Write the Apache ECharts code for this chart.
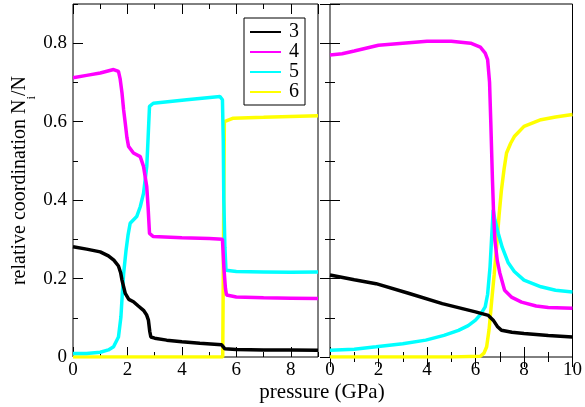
<!DOCTYPE html>
<html>
<head>
<meta charset="utf-8">
<script src="https://cdn.jsdelivr.net/npm/echarts@6/dist/echarts.min.js"></script>
<style>
  html, body { margin: 0; padding: 0; background: #fff; }
  #chart { width: 585px; height: 407px; }
</style>
</head>
<body>
<div id="chart"></div>
<script>
// Fraction of atoms with coordination 3, 4, 5, 6 versus pressure (two runs)
var seriesNames = ['3', '4', '5', '6'];
var seriesColors = ['#000000', '#ff00ff', '#00ffff', '#ffff00'];

// left run, pressure 0-9 GPa
var left3 = [[0,0.281],[0.5,0.275],[1.0,0.268],[1.3,0.258],[1.5,0.247],[1.67,0.232],[1.75,0.215],[1.8,0.196],[1.92,0.162],[2.05,0.147],[2.22,0.141],[2.4,0.13],[2.59,0.119],[2.7,0.108],[2.77,0.094],[2.82,0.065],[2.86,0.051],[3.0,0.048],[3.44,0.043],[4.0,0.039],[4.66,0.035],[5.46,0.031],[5.52,0.03],[5.58,0.021],[6.0,0.019],[7.0,0.018],[8.0,0.018],[9.0,0.017]];
var left4 = [[0,0.712],[0.5,0.718],[1.0,0.724],[1.49,0.733],[1.67,0.728],[1.73,0.71],[1.8,0.673],[1.86,0.63],[1.92,0.596],[1.98,0.56],[2.04,0.537],[2.22,0.52],[2.47,0.511],[2.59,0.486],[2.71,0.434],[2.76,0.38],[2.81,0.315],[2.95,0.307],[4.0,0.304],[5.0,0.302],[5.49,0.3],[5.54,0.23],[5.6,0.175],[5.64,0.158],[6.0,0.153],[7.0,0.151],[8.0,0.15],[9.0,0.149]];
var left5 = [[0,0.009],[0.5,0.009],[1.0,0.012],[1.3,0.018],[1.49,0.026],[1.67,0.051],[1.76,0.102],[1.81,0.16],[1.86,0.213],[1.95,0.273],[2.02,0.31],[2.1,0.341],[2.34,0.358],[2.47,0.383],[2.59,0.417],[2.71,0.486],[2.76,0.56],[2.81,0.639],[2.95,0.647],[4.18,0.656],[5.4,0.664],[5.49,0.656],[5.52,0.55],[5.54,0.4],[5.58,0.28],[5.62,0.221],[6.0,0.218],[7.0,0.217],[8.0,0.216],[9.0,0.217]];
var left6 = [[0,0],[5.5,0],[5.53,0.3],[5.56,0.6],[5.6,0.603],[5.89,0.609],[7.0,0.611],[8.0,0.613],[9.0,0.615]];

// right run, pressure 0-10 GPa
var right3 = [[0,0.209],[1.0,0.197],[1.9,0.187],[3.27,0.162],[4.63,0.136],[6.0,0.115],[6.53,0.106],[6.73,0.094],[6.9,0.078],[7.07,0.068],[7.5,0.063],[8.0,0.06],[9.0,0.055],[10,0.051]];
var right4 = [[0,0.77],[0.5,0.773],[1.0,0.78],[2.0,0.795],[3.0,0.8],[4.0,0.805],[5.0,0.805],[5.8,0.8],[6.2,0.79],[6.4,0.775],[6.5,0.758],[6.58,0.7],[6.63,0.6],[6.7,0.45],[6.75,0.36],[6.8,0.298],[6.9,0.245],[7.0,0.215],[7.2,0.17],[7.5,0.152],[7.9,0.14],[8.5,0.13],[9.0,0.126],[10,0.124]];
var right5 = [[0,0.017],[1.0,0.02],[1.9,0.026],[3.0,0.034],[3.95,0.043],[4.7,0.055],[5.3,0.068],[5.7,0.08],[6.0,0.094],[6.2,0.108],[6.4,0.128],[6.5,0.16],[6.6,0.23],[6.67,0.31],[6.73,0.375],[6.8,0.35],[6.94,0.315],[7.1,0.28],[7.35,0.24],[7.6,0.218],[8.0,0.196],[8.7,0.179],[9.3,0.17],[10,0.166]];
var right6 = [[0,0],[5.0,0],[6.2,0.002],[6.35,0.01],[6.46,0.026],[6.56,0.07],[6.67,0.145],[6.77,0.21],[6.87,0.28],[6.97,0.36],[7.07,0.426],[7.18,0.48],[7.28,0.52],[7.45,0.545],[7.6,0.562],[8.0,0.588],[8.7,0.605],[9.3,0.612],[10,0.618]];

var leftXMax = 9, rightXMax = 10, yMax = 0.9;
var FONT = '"Liberation Serif", "DejaVu Serif", serif';

function xAx(grid, pos, max, interval, len, labels) {
  return {
    type: 'value', gridIndex: grid, position: pos, min: 0, max: max, interval: interval,
    axisLine: { show: false },
    axisTick: { show: true, inside: true, length: len, lineStyle: { color: '#000', width: 1 } },
    axisLabel: labels ? { show: true, margin: 4, color: '#000', fontFamily: FONT, fontSize: 19,
      showMaxLabel: max % interval === 0 } : { show: false },
    splitLine: { show: false }
  };
}
function yAx(grid, pos, interval, len, labels) {
  return {
    type: 'value', gridIndex: grid, position: pos, min: 0, max: yMax, interval: interval,
    axisLine: { show: false },
    axisTick: { show: true, inside: true, length: len, lineStyle: { color: '#000', width: 1 } },
    axisLabel: labels ? { show: true, margin: 6, color: '#000', fontFamily: FONT, fontSize: 19,
      showMaxLabel: false,
      formatter: function (v) { return v === 0 ? '0' : v.toFixed(1); } } : { show: false },
    splitLine: { show: false }
  };
}

var xAxes = [
  xAx(0, 'bottom', leftXMax, 2, 10, true),
  xAx(0, 'bottom', leftXMax, 1, 5, false),
  xAx(0, 'top', leftXMax, 2, 10, false),
  xAx(0, 'top', leftXMax, 1, 5, false),
  xAx(1, 'bottom', rightXMax, 2, 10, true),
  xAx(1, 'bottom', rightXMax, 1, 5, false),
  xAx(1, 'top', rightXMax, 2, 10, false),
  xAx(1, 'top', rightXMax, 1, 5, false)
];
var yAxes = [
  yAx(0, 'left', 0.2, 10, true),
  yAx(0, 'left', 0.1, 5, false),
  yAx(1, 'left', 0.2, 10, false),
  yAx(1, 'left', 0.1, 5, false),
  yAx(1, 'right', 0.2, 10, false),
  yAx(1, 'right', 0.1, 5, false)
];
yAxes[0].name = '{t|relative coordination N}{s|i}{t|/N}';
yAxes[0].nameLocation = 'middle';
yAxes[0].nameGap = 43;
yAxes[0].nameTextStyle = {
  rich: {
    t: { fontFamily: FONT, fontSize: 20, color: '#000' },
    s: { fontFamily: FONT, fontSize: 13, color: '#000', verticalAlign: 'bottom', padding: [0, 0, -8, 0] }
  }
};

var panels = [
  { x: 0, y: 0, data: [left3, left4, left5, left6] },
  { x: 4, y: 2, data: [right3, right4, right5, right6] }
];
var series = [];
var drawOrder = [3, 2, 1, 0];
panels.forEach(function (p) {
  drawOrder.forEach(function (k) {
    series.push({
      name: seriesNames[k], type: 'line', xAxisIndex: p.x, yAxisIndex: p.y,
      data: p.data[k], showSymbol: false, symbol: 'none', smooth: false,
      lineStyle: { color: seriesColors[k], width: 3.5 },
      itemStyle: { color: seriesColors[k] },
      silent: true, animation: false
    });
  });
});

var chart = echarts.init(document.getElementById('chart'), null, { renderer: 'canvas' });
chart.setOption({
  backgroundColor: '#fff',
  animation: false,
  grid: [
    { left: 73, right: 267, top: 4, bottom: 50, show: true, borderColor: '#000', borderWidth: 1, backgroundColor: 'transparent' },
    { left: 330, right: 10, top: 4, bottom: 50, show: true, borderColor: '#000', borderWidth: 1, backgroundColor: 'transparent' }
  ],
  legend: {
    data: seriesNames, orient: 'vertical', left: 244, top: 18,
    padding: [4, 6, 3, 6], borderColor: '#000', borderWidth: 1, backgroundColor: '#fff',
    icon: 'rect', itemWidth: 31, itemHeight: 2, itemGap: 0, selectedMode: false,
    textStyle: { fontFamily: FONT, fontSize: 20, color: '#000', lineHeight: 18, padding: [0, 0, 0, 3] }
  },
  graphic: [{
    type: 'text', x: 322, y: 392,
    style: { text: 'pressure (GPa)', font: '21px "Liberation Serif", serif', fill: '#000',
      textAlign: 'center', textVerticalAlign: 'middle' }
  }],
  xAxis: xAxes,
  yAxis: yAxes,
  series: series
});
</script>
</body>
</html>
